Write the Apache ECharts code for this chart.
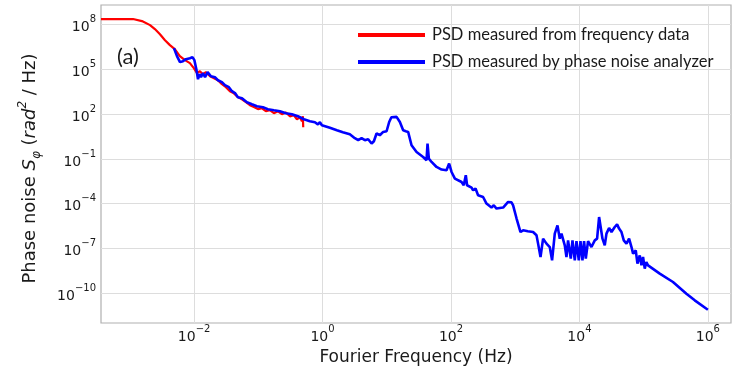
<!DOCTYPE html>
<html>
<head>
<meta charset="utf-8">
<script src="https://cdn.jsdelivr.net/npm/echarts@6/dist/echarts.min.js"></script>
<style>
  html, body { margin: 0; padding: 0; background: #fff; }
  #chart { width: 736px; height: 366px; }
</style>
</head>
<body>
<div id="chart"></div>
<script>
// Phase-noise power spectral density, two measurement methods (log-log).

// PSD derived from frequency data (Hz, rad^2/Hz)
const redFreq = [3.55e-4, 1.12e-3, 1.54e-3, 2.06e-3, 2.45e-3, 2.94e-3, 3.52e-3, 4.2e-3, 5.0e-3, 6.0e-3,
  7.2e-3, 8.6e-3, 9.9e-3, 1.11e-2, 1.23e-2, 1.37e-2, 1.53e-2, 1.77e-2, 2.04e-2, 2.35e-2,
  2.71e-2, 3.13e-2, 3.61e-2, 4.17e-2, 4.81e-2, 5.56e-2, 6.41e-2, 7.40e-2, 8.53e-2, 9.86e-2,
  0.114, 0.131, 0.151, 0.175, 0.202, 0.233, 0.269, 0.310, 0.358, 0.399,
  0.444, 0.477, 0.494, 0.5];
const redPsd = [2.4e8, 2.4e8, 1.75e8, 9.4e7, 5.1e7, 2.3e7, 9.2e6, 4.3e6, 2.3e6, 7.8e5,
  4.2e5, 2.65e5, 1.22e5, 5.6e4, 7.7e4, 4.8e4, 6.6e4, 3.5e4, 2.6e4, 1.9e4,
  1.03e4, 6.5e3, 3.5e3, 2.5e3, 1.4e3, 1.0e3, 640, 400, 300, 220,
  250, 160, 185, 118, 155, 100, 130, 72, 85, 46,
  62, 34, 72, 13.4];

// PSD from the phase noise analyzer (Hz, rad^2/Hz)
const blueFreq = [4.85e-3, 5.41e-3, 6.03e-3, 6.70e-3, 7.46e-3, 8.61e-3, 9.42e-3, 1.01e-2, 1.09e-2, 1.15e-2,
  1.21e-2, 1.28e-2, 1.37e-2, 1.48e-2, 1.62e-2, 1.83e-2, 2.11e-2, 2.35e-2, 2.71e-2, 3.02e-2,
  3.48e-2, 3.88e-2, 4.33e-2, 4.81e-2, 5.56e-2, 6.64e-2, 7.94e-2, 9.5e-2, 0.118, 0.141,
  0.175, 0.217, 0.269, 0.333, 0.413, 0.513, 0.635, 0.760, 0.846, 0.91,
  0.977, 1.30, 1.67, 2.07, 2.66, 3.18, 3.59, 4.05, 4.56, 5.13,
  5.80, 6.30, 6.93, 7.80, 8.79, 9.93, 10.9, 11.8, 12.6, 14.2,
  16.0, 18.0, 19.8, 21.5, 24.3, 29.1, 36.8, 41.6, 43.1, 45.2,
  49.8, 59.6, 71.3, 85.2, 93.5, 102, 115, 146, 158, 170,
  178, 209, 221, 241, 264, 316, 357, 427, 464, 511,
  648, 775, 875, 927, 1047, 1208, 1327, 1570, 1897, 2144,
  2270, 2477, 2716, 3069, 3451, 3750, 4130, 4550, 4940, 5250,
  5910, 6280, 6650, 7330, 7790, 8460, 8990, 9770, 10380, 11140,
  11800, 12560, 13610, 15380, 17330, 18830, 20230, 21480, 22840, 24780,
  26350, 28920, 31550, 35480, 38550, 41400, 45100, 49000, 54000, 59300,
  64600, 68400, 75300, 80000, 86900, 92400, 97800, 104000, 110000, 117000,
  178000, 286000, 463000, 624000, 1e6];
const bluePsd = [2.7e6, 7.8e5, 3.1e5, 3.6e5, 4.9e5, 5.7e5, 6.7e5, 4.2e5, 9.0e4, 2.2e4,
  4.8e4, 3.0e4, 5.6e4, 3.0e4, 6.6e4, 3.5e4, 3.0e4, 1.9e4, 1.4e4, 8.8e3,
  6.5e3, 3.5e3, 2.6e3, 1.39e3, 1.19e3, 640, 469, 344, 295, 217,
  185, 159, 117, 100, 73, 46, 34, 29, 21, 29,
  18.3, 12.4, 8.4, 6.2, 4.5, 2.45, 1.80, 2.45, 1.80, 2.1,
  1.08, 1.54, 5.1, 3.9, 6.5, 7.2, 30, 63, 73, 66,
  30, 8.4, 7.2, 6.5, 0.83, 0.295, 0.136, 0.082, 1.08, 0.106,
  0.063, 0.029, 0.0194, 0.0175, 0.049, 0.0134, 0.0048, 0.00286, 0.00172, 0.0081,
  0.00172, 0.0012, 7.9e-4, 1.03e-3, 3.66e-4, 2.8e-4, 1.02e-4, 5.5e-5, 7.8e-5, 4.7e-5,
  5.5e-5, 1.3e-4, 1.24e-4, 7.8e-5, 1.05e-5, 1.26e-6, 1.64e-6, 1.41e-6, 1.26e-6, 7.6e-7,
  2.1e-7, 2.65e-8, 4.5e-7, 2.1e-7, 1.24e-7, 1.59e-8, 9.8e-7, 3.5e-6, 4.5e-7, 9.8e-7,
  1.6e-7, 2.65e-8, 3.5e-7, 2.07e-8, 3.5e-7, 1.59e-8, 3.1e-7, 1.59e-8, 3.1e-7, 1.59e-8,
  3.1e-7, 2.07e-8, 3.1e-7, 1.24e-7, 3.5e-7, 4.5e-7, 1.28e-5, 1.0e-5, 4.5e-7, 1.6e-7,
  9.8e-7, 2.34e-6, 1.26e-6, 2.73e-6, 4.1e-6, 2.13e-6, 1.26e-6, 3.5e-7, 2.1e-7, 4.5e-7,
  1.24e-7, 4.5e-8, 7.4e-8, 9.5e-9, 3.4e-8, 7.3e-9, 2.65e-8, 4.4e-9, 1.22e-8, 7.3e-9,
  2.04e-9, 5.6e-10, 9.2e-11, 3.3e-11, 7.8e-12];

// Axis ranges and labelled decades
const xRange = [3.55e-4, 2.29e6];
const yRange = [1e-12, 2.1e9];
const xTicks = [1e-2, 1, 1e2, 1e4, 1e6];
const yTicks = [1e-10, 1e-7, 1e-4, 1e-1, 1e2, 1e5, 1e8];

const seriesNames = ['PSD measured from frequency data', 'PSD measured by phase noise analyzer'];

const zip = (xs, ys) => xs.map((x, i) => [x, ys[i]]);

function powerLabel(v) {
  const e = Math.round(Math.log10(v));
  const s = e < 0 ? '\u2212' + (-e) : String(e);
  return '{b|10}{e|' + s + '}';
}

const tickRich = {
  b: { fontFamily: 'DejaVu Sans', fontSize: 14, color: '#1a1a1a', lineHeight: 20, verticalAlign: 'bottom' },
  e: { fontFamily: 'DejaVu Sans', fontSize: 10, color: '#1a1a1a', lineHeight: 20, verticalAlign: 'top' }
};

const nameRich = {
  n: { fontFamily: 'DejaVu Sans', fontSize: 18, color: '#1a1a1a', lineHeight: 26, verticalAlign: 'middle' },
  i: { fontFamily: 'DejaVu Sans', fontStyle: 'italic', fontSize: 18, color: '#1a1a1a', lineHeight: 26, verticalAlign: 'middle' },
  sub: { fontFamily: 'DejaVu Sans', fontStyle: 'italic', fontSize: 12, color: '#1a1a1a', lineHeight: 26, verticalAlign: 'bottom' },
  sup: { fontFamily: 'DejaVu Sans', fontStyle: 'italic', fontSize: 12, color: '#1a1a1a', lineHeight: 26, verticalAlign: 'top' }
};

const chart = echarts.init(document.getElementById('chart'), null, { renderer: 'canvas' });

chart.setOption({
  animation: false,
  backgroundColor: '#ffffff',
  grid: {
    left: 101, top: 5, right: 5, bottom: 43,
    outerBoundsMode: 'none',
    containLabel: false,
    show: true, borderColor: '#b0b0b0', borderWidth: 1.2, backgroundColor: 'transparent'
  },
  legend: {
    data: seriesNames,
    orient: 'vertical',
    left: 358, top: 26,
    padding: 0,
    icon: 'rect',
    itemWidth: 67, itemHeight: 4, itemGap: 9,
    textStyle: { fontFamily: 'Lato', fontSize: 16.5, color: '#1a1a1a', lineHeight: 18, padding: [0, 0, 0, 2] }
  },
  graphic: [{
    type: 'text', left: 117, top: 46,
    style: { text: '(a)', fontFamily: 'Lato', fontSize: 22, fill: '#1a1a1a' }
  }],
  xAxis: {
    type: 'log', logBase: 10,
    min: xRange[0], max: xRange[1],
    name: 'Fourier Frequency (Hz)',
    nameLocation: 'middle', nameGap: 21,
    nameTextStyle: { fontFamily: 'DejaVu Sans', fontSize: 17, color: '#1a1a1a' },
    axisLine: { show: false },
    axisTick: { show: false, customValues: xTicks },
    axisLabel: { customValues: xTicks, margin: 1, formatter: powerLabel, rich: tickRich },
    splitLine: { show: true, lineStyle: { color: '#dddddd', width: 1 } },
    minorSplitLine: { show: false }
  },
  yAxis: {
    type: 'log', logBase: 10,
    min: yRange[0], max: yRange[1],
    name: '{n|Phase noise }{i|S}{sub|\u03c6}{n| (}{i|rad}{sup|2}{n| / Hz)}',
    nameLocation: 'middle', nameGap: 58, nameRotate: 90,
    nameTextStyle: { fontFamily: 'DejaVu Sans', fontSize: 18, color: '#1a1a1a', rich: nameRich, padding: [0, 9, 0, 0] },
    axisLine: { show: false },
    axisTick: { show: false, customValues: yTicks },
    axisLabel: { customValues: yTicks, margin: 5, formatter: powerLabel, rich: tickRich },
    splitLine: { show: true, lineStyle: { color: '#dddddd', width: 1 } }
  },
  series: [
    {
      name: seriesNames[0], type: 'line', data: zip(redFreq, redPsd),
      showSymbol: false, clip: true,
      lineStyle: { color: '#ff0000', width: 2.2 }, itemStyle: { color: '#ff0000' }
    },
    {
      name: seriesNames[1], type: 'line', data: zip(blueFreq, bluePsd),
      showSymbol: false, clip: true,
      lineStyle: { color: '#0000ff', width: 2.6 }, itemStyle: { color: '#0000ff' }
    }
  ]
});
</script>
</body>
</html>
